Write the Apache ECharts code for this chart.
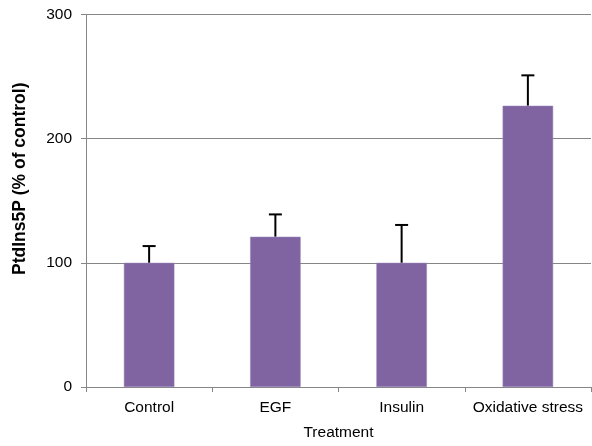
<!DOCTYPE html>
<html><head><meta charset="utf-8">
<script src="https://cdn.jsdelivr.net/npm/echarts@6/dist/echarts.min.js"></script>
<style>html,body{margin:0;padding:0;background:#fff}#c{width:592px;height:446px}</style>
</head><body><div id="c"></div>
<script>
var categories = ['Control', 'EGF', 'Insulin', 'Oxidative stress'];
var values = [100, 121, 100, 226.5];
var errorTops = [113.5, 139, 130.5, 251];
var yTicks = [0, 100, 200, 300];

var chart = echarts.init(document.getElementById('c'));
var font = 'Liberation Sans, Arial, sans-serif';
chart.setOption({
  animation: false,
  grid: {left: 86, right: 1, top: 14.5, bottom: 57.5},
  xAxis: {
    type: 'category', data: categories,
    name: 'Treatment', nameLocation: 'middle', nameGap: 38,
    nameTextStyle: {fontFamily: font, fontSize: 15.5, color: '#000'},
    axisLine: {lineStyle: {color: '#868686', width: 1}},
    axisTick: {show: true, length: 5, lineStyle: {color: '#868686'}},
    axisLabel: {fontFamily: font, fontSize: 15.5, color: '#000', margin: 13, interval: 0, hideOverlap: false}
  },
  yAxis: {
    type: 'value', min: yTicks[0], max: yTicks[yTicks.length - 1], interval: 100,
    name: 'PtdIns5P (% of control)', nameLocation: 'middle', nameGap: 57,
    nameTextStyle: {fontFamily: font, fontSize: 17.5, fontWeight: 'bold', color: '#000', padding: [0, 0, 0, 44]},
    axisLine: {show: true, lineStyle: {color: '#868686', width: 1}},
    axisTick: {show: true, length: 5, lineStyle: {color: '#868686'}},
    axisLabel: {fontFamily: font, fontSize: 15.5, color: '#000', margin: 14},
    splitLine: {lineStyle: {color: '#868686', width: 1}}
  },
  series: [{
    type: 'bar', data: values, barWidth: '40%',
    itemStyle: {color: '#8064A2', borderColor: '#9a86b8', borderWidth: 0.5}
  }, {
    type: 'custom',
    data: values.map(function (v, i) { return [i, v, errorTops[i]]; }),
    z: 1,
    renderItem: function (params, api) {
      var base = api.coord([api.value(0), api.value(1)]);
      var top = api.coord([api.value(0), api.value(2)]);
      var hw = 6.5;
      return {
        type: 'group',
        children: [
          {type: 'line', shape: {x1: base[0], y1: base[1], x2: top[0], y2: top[1]}, style: {stroke: '#000', lineWidth: 2}},
          {type: 'line', shape: {x1: top[0] - hw, y1: top[1], x2: top[0] + hw, y2: top[1]}, style: {stroke: '#000', lineWidth: 2}}
        ]
      };
    }
  }]
});
</script></body></html>
